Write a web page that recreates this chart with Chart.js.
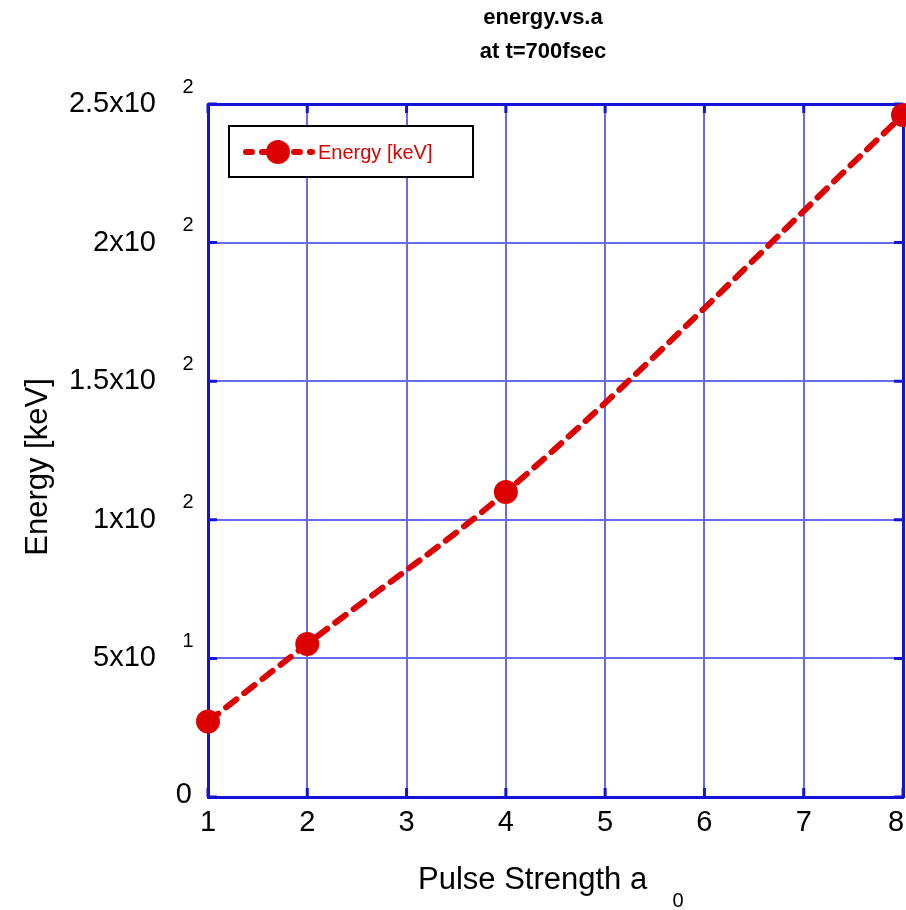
<!DOCTYPE html>
<html lang="en">
<head>
    <meta charset="UTF-8">
    <title>energy.vs.a</title>
    <script src="https://cdn.jsdelivr.net/npm/chart.js"></script>
    <style>
        body { margin: 0; background: #fff; }
        #wrap { width: 906px; height: 910px; }
    </style>
</head>
<body>
    <div id="wrap"><canvas id="myChart"></canvas></div>
    <script>
        // data
        const pulseStrength = [1, 2, 4, 8];
        const energyKeV = [27.2, 55.2, 110, 246];
        const xTicks = [1, 2, 3, 4, 5, 6, 7, 8];
        const yTicks = [0, 50, 100, 150, 200, 250];
        const yTickText = ['0', '5x10', '1x10', '1.5x10', '2x10', '2.5x10'];
        const yTickExp = ['', '1', '2', '2', '2', '2'];
        const titleLines = ['energy.vs.a', 'at t=700fsec'];
        const seriesLabel = 'Energy [keV]';

        const RED = '#dd0000';
        const GRID = '#6a6aee';
        const BORDER = '#1414d8';
        const FONT = '"Liberation Sans", Arial, sans-serif';

        const labelsPlugin = {
            id: 'labels',
            beforeDatasetsDraw(chart) {
                const ctx = chart.ctx;
                const x = chart.scales.x, y = chart.scales.y;
                const a = chart.chartArea;
                ctx.save();
                // inward tick marks
                ctx.strokeStyle = BORDER;
                ctx.lineWidth = 3;
                xTicks.forEach(v => {
                    const px = x.getPixelForValue(v);
                    ctx.beginPath();
                    ctx.moveTo(px, a.bottom); ctx.lineTo(px, a.bottom - 9);
                    ctx.moveTo(px, a.top); ctx.lineTo(px, a.top + 9);
                    ctx.stroke();
                });
                yTicks.forEach(v => {
                    const py = y.getPixelForValue(v);
                    ctx.beginPath();
                    ctx.moveTo(a.left, py); ctx.lineTo(a.left + 9, py);
                    ctx.moveTo(a.right, py); ctx.lineTo(a.right - 9, py);
                    ctx.stroke();
                });
                ctx.restore();
            },
            afterDraw(chart) {
                const ctx = chart.ctx;
                const x = chart.scales.x, y = chart.scales.y;
                ctx.save();
                ctx.fillStyle = '#000';

                // title
                ctx.font = 'bold 22px ' + FONT;
                ctx.textAlign = 'center';
                ctx.textBaseline = 'middle';
                titleLines.forEach((t, i) => ctx.fillText(t, 543, 18 + i * 34));

                // y tick labels with superscript exponent
                yTicks.forEach((v, i) => {
                    const py = y.getPixelForValue(v);
                    ctx.font = '29px ' + FONT;
                    ctx.textAlign = 'right';
                    ctx.textBaseline = 'middle';
                    if (yTickExp[i]) {
                        ctx.fillText(yTickText[i], 156, py);
                        ctx.font = '20px ' + FONT;
                        ctx.textAlign = 'center';
                        ctx.fillText(yTickExp[i], 188, py - 17);
                    } else {
                        ctx.fillText(yTickText[i], 192, py - 2);
                    }
                });

                // x tick labels
                ctx.font = '29px ' + FONT;
                ctx.textAlign = 'center';
                ctx.textBaseline = 'middle';
                xTicks.forEach(v => {
                    let px = x.getPixelForValue(v);
                    if (px > 896) px = 896;
                    ctx.fillText(String(v), px, 823);
                });

                // x axis title with subscript
                ctx.font = '31px ' + FONT;
                ctx.textAlign = 'left';
                ctx.fillText('Pulse Strength a', 418, 880);
                ctx.font = '20px ' + FONT;
                ctx.textAlign = 'center';
                ctx.fillText('0', 678, 901);

                // y axis title
                ctx.save();
                ctx.translate(38, 467);
                ctx.rotate(-Math.PI / 2);
                ctx.font = '31px ' + FONT;
                ctx.textAlign = 'center';
                ctx.fillText('Energy [keV]', 0, 0);
                ctx.restore();

                // legend
                ctx.fillStyle = '#fff';
                ctx.fillRect(229, 126, 244, 51);
                ctx.strokeStyle = '#000';
                ctx.lineWidth = 2;
                ctx.strokeRect(229, 126, 244, 51);
                ctx.strokeStyle = RED;
                ctx.lineWidth = 6;
                ctx.lineCap = 'round';
                ctx.setLineDash([6, 10]);
                ctx.beginPath();
                ctx.moveTo(246, 152); ctx.lineTo(312, 152);
                ctx.stroke();
                ctx.setLineDash([]);
                ctx.fillStyle = RED;
                ctx.beginPath();
                ctx.arc(278, 152, 12, 0, Math.PI * 2);
                ctx.fill();
                ctx.font = '20px ' + FONT;
                ctx.textAlign = 'left';
                ctx.textBaseline = 'middle';
                ctx.fillText(seriesLabel, 318, 153);
                ctx.restore();
            }
        };

        new Chart(document.getElementById('myChart'), {
            type: 'line',
            data: {
                datasets: [{
                    label: seriesLabel,
                    data: pulseStrength.map((p, i) => ({ x: p, y: energyKeV[i] })),
                    borderColor: RED,
                    backgroundColor: RED,
                    borderWidth: 6,
                    borderDash: [13, 10],
                    borderCapStyle: 'round',
                    cubicInterpolationMode: 'monotone',
                    pointRadius: 12,
                    pointHoverRadius: 12,
                    pointBorderWidth: 0,
                    clip: false
                }]
            },
            options: {
                responsive: true,
                maintainAspectRatio: false,
                animation: false,
                layout: { autoPadding: false, padding: { top: 104, right: 3, left: 0, bottom: 0 } },
                plugins: {
                    legend: { display: false },
                    title: { display: false },
                    tooltip: { enabled: false }
                },
                scales: {
                    x: {
                        type: 'linear',
                        min: 1,
                        max: 8,
                        afterFit(s) { s.height = 113; },
                        afterBuildTicks(s) { s.ticks = xTicks.map(v => ({ value: v })); },
                        ticks: { display: false },
                        grid: { color: GRID, lineWidth: 2, drawTicks: false },
                        border: { color: BORDER, width: 3 }
                    },
                    y: {
                        min: 0,
                        max: 250,
                        afterFit(s) { s.width = 208; },
                        afterBuildTicks(s) { s.ticks = yTicks.map(v => ({ value: v })); },
                        ticks: { display: false },
                        grid: { color: GRID, lineWidth: 2, drawTicks: false },
                        border: { color: BORDER, width: 3 }
                    },
                    x2: {
                        type: 'linear', position: 'top', min: 1, max: 8,
                        afterFit(s) { s.height = 0; },
                        ticks: { display: false },
                        grid: { display: false, drawTicks: false },
                        border: { color: BORDER, width: 3 }
                    },
                    y2: {
                        position: 'right', min: 0, max: 250,
                        afterFit(s) { s.width = 0; },
                        ticks: { display: false },
                        grid: { display: false, drawTicks: false },
                        border: { color: BORDER, width: 3 }
                    }
                }
            },
            plugins: [labelsPlugin]
        });
    </script>
</body>
</html>
